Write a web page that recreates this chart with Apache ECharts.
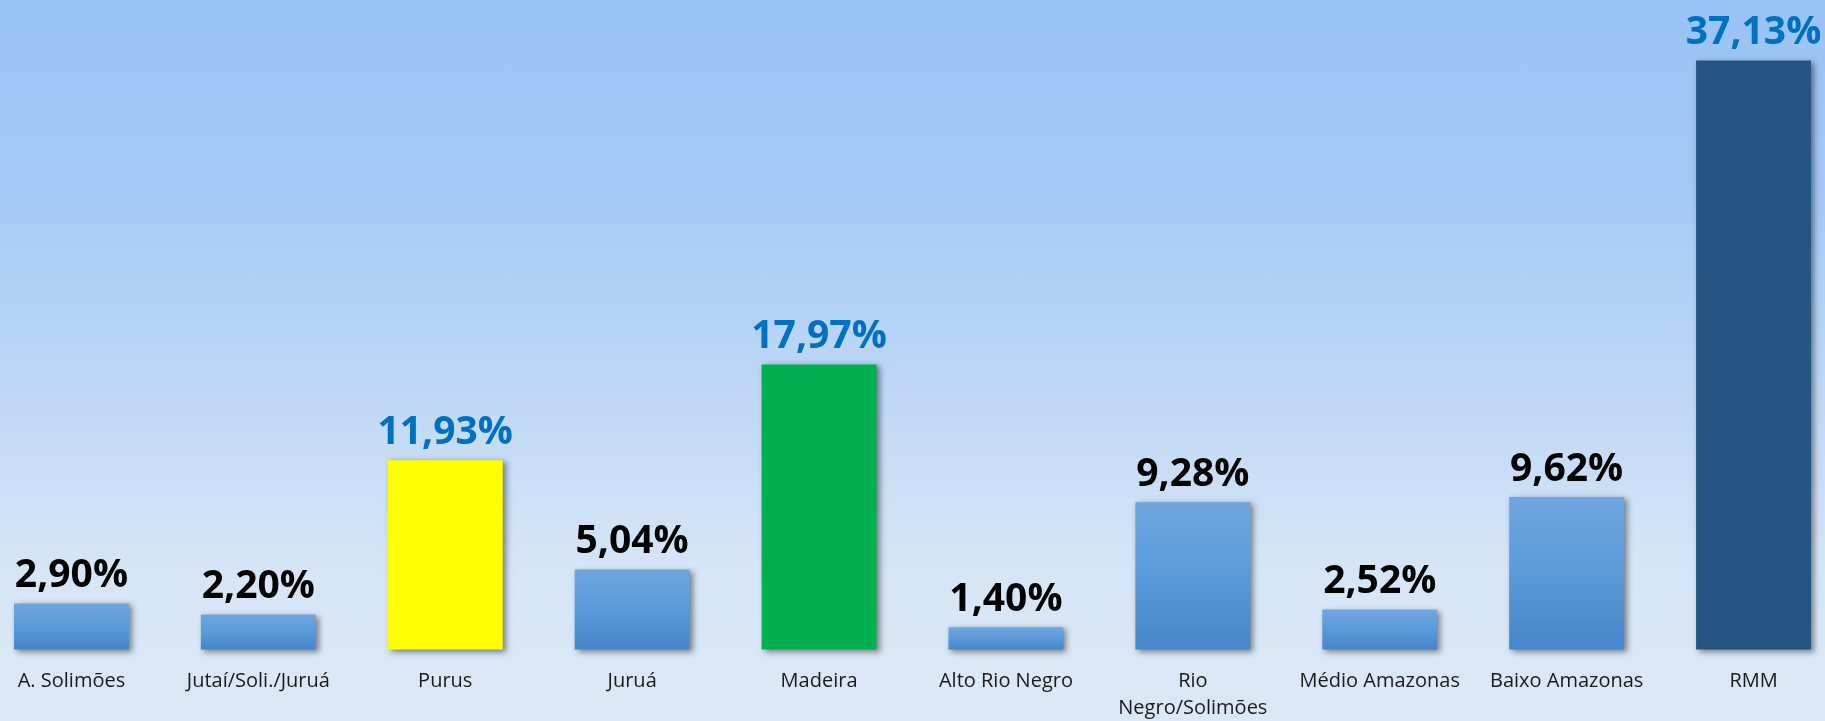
<!DOCTYPE html>
<html>
<head>
    <meta charset="utf-8">
    <title>Regiões</title>
    <script src="https://cdn.jsdelivr.net/npm/echarts@6/dist/echarts.min.js"></script>
    <style>
        html, body { margin: 0; padding: 0; }
        #chart {
            width: 1825px;
            height: 721px;
            background: linear-gradient(to bottom, #99c3f5 0%, #a3c8f5 25%, #c0d8f5 55%, #d6e6f7 80%, #dbe8f6 100%);
        }
    </style>
</head>
<body>
<div id="chart"></div>
<script>
    // dados
    var categorias = ['A. Solimões', 'Jutaí/Soli./Juruá', 'Purus', 'Juruá', 'Madeira',
        'Alto Rio Negro', 'Rio\nNegro/Solimões', 'Médio Amazonas', 'Baixo Amazonas', 'RMM'];
    var valores = [2.90, 2.20, 11.93, 5.04, 17.97, 1.40, 9.28, 2.52, 9.62, 37.13];
    var rotulos = ['2,90%', '2,20%', '11,93%', '5,04%', '17,97%', '1,40%', '9,28%', '2,52%', '9,62%', '37,13%'];
    var destaque = [false, false, true, false, true, false, false, false, false, true];
    var corBarra = [null, null, '#ffff00', null, '#00b050', null, null, null, null, '#245583'];

    var azul = {
        type: 'linear', x: 0, y: 0, x2: 0, y2: 1,
        colorStops: [{offset: 0, color: '#6fa6df'}, {offset: 0.5, color: '#5a9ada'}, {offset: 1, color: '#4586cb'}]
    };

    var chart = echarts.init(document.getElementById('chart'));

    var dados = valores.map(function (v, i) {
        return {
            value: v,
            itemStyle: {color: corBarra[i] || azul},
            label: {color: destaque[i] ? '#0070c0' : '#000000'}
        };
    });

    chart.setOption({
        animation: false,
        grid: {left: -22, width: 1869, top: 15, bottom: 71.5, outerBoundsMode: 'none'},
        xAxis: {
            type: 'category',
            data: categorias,
            axisLine: {show: false},
            axisTick: {show: false},
            axisLabel: {
                interval: 0,
                margin: 18,
                fontFamily: 'Open Sans',
                fontSize: 20,
                lineHeight: 27,
                color: '#1a1a1a'
            }
        },
        yAxis: {
            type: 'value',
            min: 0,
            max: 40,
            show: false,
            splitLine: {show: false}
        },
        series: [{
            type: 'bar',
            data: dados,
            barWidth: '61.5%',
            itemStyle: {
                shadowColor: 'rgba(0,0,0,0.45)',
                shadowBlur: 6,
                shadowOffsetX: 3,
                shadowOffsetY: 2
            },
            label: {
                show: true,
                position: 'top',
                distance: 8,
                fontFamily: 'Open Sans',
                fontWeight: 'bold',
                fontSize: 39,
                formatter: function (p) { return rotulos[p.dataIndex]; }
            }
        }]
    });
</script>
</body>
</html>
